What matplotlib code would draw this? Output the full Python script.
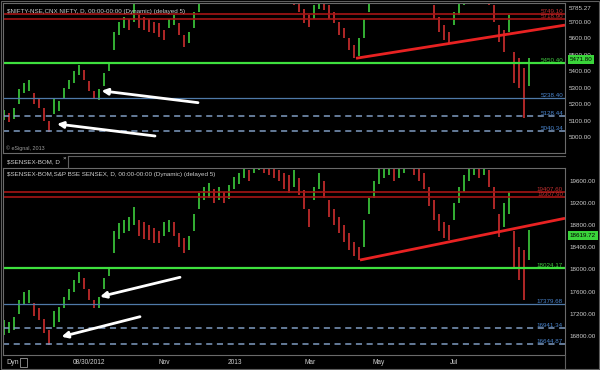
import matplotlib.pyplot as plt
from matplotlib.patches import Rectangle
from matplotlib.lines import Line2D
from matplotlib.ticker import FormatStrFormatter
import numpy as np

plt.rcParams['font.family'] = ['Liberation Sans', 'DejaVu Sans']

# daily bars (high / low), Jul 2012 - Aug 2013
nifty_hi = [5165, 5150, 5180, 5290, 5330, 5345, 5270, 5240, 5180, 5100,
            5238, 5220, 5300, 5350, 5400, 5440, 5410, 5340, 5280, 5290,
            5390, 5455, 5640, 5700, 5730, 5720, 5820, 5740, 5730, 5720,
            5700, 5690, 5650, 5720, 5740, 5690, 5620, 5640, 5760, 5850,
            5900, 5920, 5950, 5980, 6000, 6050, 6080, 6110, 6080, 6060,
            6070, 6050, 6000, 5980, 5940, 5920, 5880, 5900, 5870, 5830,
            5780, 5740, 5800, 5860, 5850, 5800, 5760, 5700, 5660, 5600,
            5560, 5600, 5720, 5850, 5900, 5950, 5970, 6000, 6050, 6080,
            6120, 6180, 6200, 6100, 6000, 5900, 5800, 5730, 5680, 5640,
            5760, 5810, 5880, 5920, 5980, 6020, 5980, 5880, 5800, 5680,
            5650, 5740, 5520, 5480, 5420, 5480]
nifty_lo = [5105, 5095, 5110, 5200, 5270, 5280, 5200, 5180, 5100, 5034,
            5140, 5160, 5230, 5290, 5330, 5380, 5350, 5280, 5230, 5226,
            5310, 5400, 5530, 5620, 5660, 5650, 5700, 5660, 5650, 5640,
            5630, 5610, 5590, 5660, 5680, 5620, 5547, 5570, 5660, 5760,
            5830, 5860, 5880, 5910, 5940, 5980, 6010, 6040, 6020, 6000,
            6010, 5980, 5930, 5900, 5860, 5850, 5810, 5830, 5800, 5760,
            5690, 5668, 5720, 5780, 5770, 5720, 5690, 5620, 5600, 5530,
            5480, 5490, 5600, 5760, 5830, 5880, 5900, 5930, 5980, 6010,
            6050, 6100, 6120, 6020, 5920, 5810, 5720, 5640, 5590, 5570,
            5680, 5740, 5800, 5850, 5900, 5940, 5900, 5800, 5700, 5580,
            5520, 5640, 5330, 5300, 5118, 5310]

sensex_hi = [17080, 17050, 17140, 17450, 17600, 17630, 17390, 17300, 17100, 16900,
             17250, 17320, 17500, 17650, 17800, 17953, 17850, 17650, 17450, 17500,
             17850, 18043, 18700, 18836, 18900, 18950, 19130, 18894, 18850, 18800,
             18750, 18700, 18850, 18900, 18850, 18650, 18560, 18600, 19000, 19383,
             19500, 19560, 19450, 19500, 19400, 19520, 19670, 19750, 19850, 19800,
             19950, 20000, 19950, 19900, 19850, 19800, 19750, 19700, 19800, 19650,
             19437, 19100, 19500, 19745, 19600, 19256, 19100, 18950, 18800, 18650,
             18500, 18400, 18900, 19300, 19600, 19830, 19900, 19950, 19850, 19900,
             20000, 20100, 19950, 19900, 19750, 19490, 19250, 19000, 18850, 18800,
             19200, 19500, 19700, 19850, 19950, 19900, 19950, 19800, 19490, 19000,
             19200, 19400, 18700, 18400, 18350, 18713]
sensex_lo = [16820, 16850, 16900, 17200, 17380, 17400, 17150, 17085, 16850, 16630,
             16960, 17050, 17300, 17450, 17600, 17750, 17650, 17450, 17300, 17300,
             17650, 17880, 18293, 18550, 18650, 18700, 18800, 18600, 18550, 18530,
             18478, 18480, 18600, 18680, 18600, 18400, 18293, 18350, 18700, 19100,
             19250, 19300, 19200, 19250, 19200, 19280, 19450, 19550, 19650, 19600,
             19750, 19800, 19750, 19700, 19650, 19600, 19450, 19383, 19500, 19350,
             19100, 18770, 19256, 19450, 19300, 18950, 18800, 18650, 18500, 18350,
             18250, 18170, 18400, 19000, 19300, 19550, 19650, 19700, 19600, 19650,
             19750, 19850, 19700, 19600, 19450, 19150, 18900, 18700, 18560, 18530,
             18900, 19200, 19400, 19600, 19700, 19650, 19700, 19500, 19100, 18585,
             18770, 19000, 18043, 17808, 17446, 18170]

nifty_red = [5749.10, 5718.90]
nifty_green = 5450.40
nifty_blue = 5238.40
nifty_dashed = [5128.44, 5040.34]
nifty_last = 5471.80
nifty_ticks = [5000, 5100, 5200, 5300, 5400, 5500, 5600, 5700, 5785.27]
nifty_trend = ([70.4, 112.2], [5479, 5680])
nifty_arrows = [((19.5, 5282), (38.8, 5210)), ((10.6, 5081), (30.2, 5008))]

sensex_red = [19407.60, 19307.90]
sensex_green = 18024.17
sensex_blue = 17379.68
sensex_dashed = [16941.34, 16644.87]
sensex_last = 18619.72
sensex_ticks = [16800, 17200, 17600, 18000, 18400, 18800, 19200, 19600]
sensex_trend = ([71.2, 112.2], [18170, 18925])
sensex_arrows = [((19.2, 17506), (35.2, 17857)), ((11.5, 16782), (27.2, 17144))]

date_pos = [13.8, 31.0, 44.8, 60.2, 73.8, 89.2]
date_labels = ['08/30/2012', 'Nov', '2013', 'Mar', 'May', 'Jul']

W, H = 600, 370
fig = plt.figure(figsize=(6, 3.7), dpi=100, facecolor='black')
ax1 = fig.add_axes([3 / W, 1 - 153 / H, 562 / W, 150 / H])
ax2 = fig.add_axes([3 / W, 1 - 355 / H, 562 / W, 187 / H])

fs = 4.5
grey = '#cfcfcf'


def draw_panel(ax, hi, lo, ylim, ticks, red, green, blue, dashed, last, trend, arrows):
    ax.set_facecolor('black')
    hi = np.array(hi)
    lo = np.array(lo)
    x = np.arange(len(hi))
    mid = (hi + lo) / 2
    up = np.r_[True, mid[1:] >= mid[:-1]]
    cols = np.where(up, '#34b034', '#b02828')
    ax.vlines(x, lo, hi, colors=cols, lw=1.4)
    for r in red:
        ax.axhline(r, color='#a51515', lw=1.2)
        ax.text(111.8, r, f'{r:.2f}', color='#c03030', fontsize=fs, ha='right', va='bottom')
    ax.axhline(green, color='#3ee03e', lw=1.6)
    ax.text(111.8, green, f'{green:.2f}', color='#40c840', fontsize=fs, ha='right', va='bottom')
    ax.axhline(blue, color='#4f79a8', lw=0.9)
    ax.text(111.8, blue, f'{blue:.2f}', color='#4a86d0', fontsize=fs, ha='right', va='bottom')
    for d in dashed:
        ax.axhline(d, color='#7f9cc2', lw=1.1, ls=(0, (4, 3)))
        ax.text(111.8, d, f'{d:.2f}', color='#4a86d0', fontsize=fs, ha='right', va='bottom')
    ax.plot(trend[0], trend[1], color='#e82222', lw=2.0, solid_capstyle='butt')
    for head, tail in arrows:
        ax.annotate('', xy=head, xytext=tail,
                    arrowprops=dict(arrowstyle='-|>', color='white', lw=2.0,
                                    mutation_scale=9, shrinkA=0, shrinkB=0))
    ax.annotate(f'{last:.2f}', xy=(1, last), xycoords=('axes fraction', 'data'),
                xytext=(3.5, 0), textcoords='offset points', ha='left', va='center',
                fontsize=fs, color='black', annotation_clip=False,
                bbox=dict(boxstyle='square,pad=0.3', fc='#3ad43a', ec='none'))
    ax.set_xlim(-0.2, 112.2)
    ax.set_ylim(*ylim)
    ax.yaxis.tick_right()
    ax.set_yticks(ticks)
    ax.yaxis.set_major_formatter(FormatStrFormatter('%.2f'))
    ax.tick_params(axis='y', colors=grey, labelsize=fs, length=0, pad=3)
    for s in ax.spines.values():
        s.set_color('#6a6a6a')
        s.set_linewidth(0.8)


draw_panel(ax1, nifty_hi, nifty_lo, (4905, 5814), nifty_ticks, nifty_red, nifty_green,
           nifty_blue, nifty_dashed, nifty_last, nifty_trend, nifty_arrows)
draw_panel(ax2, sensex_hi, sensex_lo, (16451, 19835), sensex_ticks, sensex_red, sensex_green,
           sensex_blue, sensex_dashed, sensex_last, sensex_trend, sensex_arrows)

ax1.set_xticks([])
ax2.set_xticks(date_pos)
ax2.set_xticklabels(date_labels)
for lab in ax2.get_xticklabels():
    lab.set_ha('left')
ax2.tick_params(axis='x', colors=grey, labelsize=fs + 0.2, length=0, pad=3)


def px(x, y):
    return x / W, 1 - y / H


fig.text(*px(7, 11), '$NIFTY-NSE,CNX NIFTY, D, 00:00-00:00 (Dynamic) (delayed 5)',
         color=grey, fontsize=fs, va='center')
fig.text(*px(6, 148), '© eSignal, 2013', color='#9a9a9a', fontsize=fs - 0.6, va='center')
fig.text(*px(7, 162), '$SENSEX-BOM, D', color=grey, fontsize=fs, va='center')
fig.text(*px(63, 158), '×', color=grey, fontsize=fs, va='center')
fig.text(*px(7, 174), '$SENSEX-BOM,S&P BSE SENSEX, D, 00:00-00:00 (Dynamic) (delayed 5)',
         color=grey, fontsize=fs, va='center')
fig.text(*px(6, 362), 'Dyn', color=grey, fontsize=fs + 0.5, va='center')

border = '#5e5e5e'
fig.add_artist(Rectangle(px(1, 369), 598 / W, 368 / H, transform=fig.transFigure,
                         fill=False, ec=border, lw=0.8))
fig.add_artist(Rectangle(px(20, 367), 7 / W, 9 / H, transform=fig.transFigure,
                         fill=False, ec='#9a9a9a', lw=0.6))
fig.add_artist(Line2D([68 / W, 565 / W], [1 - 156 / H, 1 - 156 / H], color=border, lw=0.8))
fig.add_artist(Line2D([68 / W, 68 / W], [1 - 156 / H, 1 - 168 / H], color=border, lw=0.8))
fig.add_artist(Line2D([565 / W, 565 / W], [1 - 355 / H, 1 - 368 / H], color=border, lw=0.8))

fig.savefig('out.png', dpi=100, facecolor='black')
